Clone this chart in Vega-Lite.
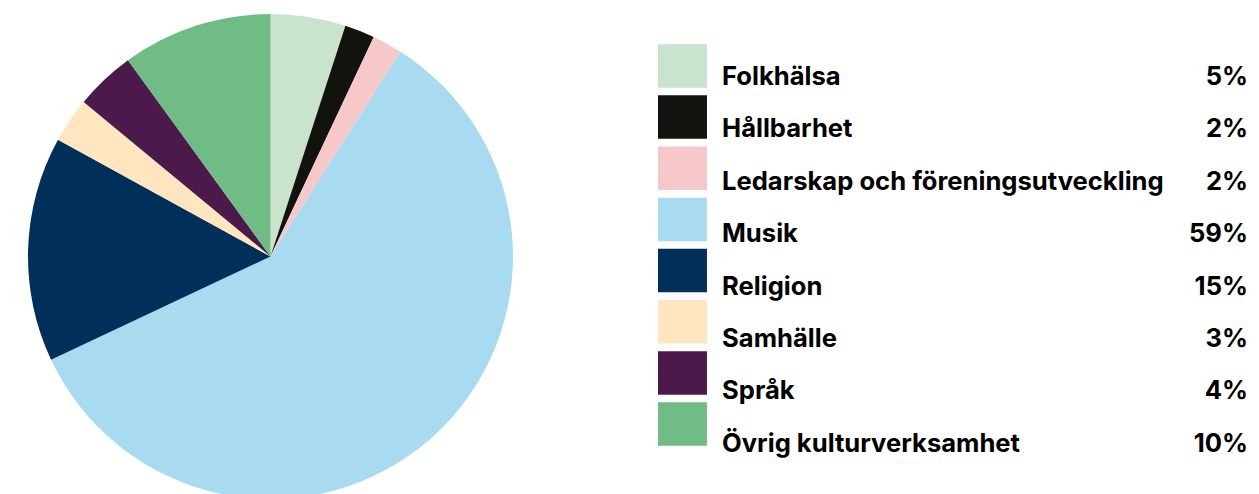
{
  "$schema": "https://vega.github.io/schema/vega-lite/v6.json",
  "padding": {"left": 28, "top": 14, "right": 0, "bottom": 0},
  "spacing": 145,
  "config": {"view": {"stroke": null}},
  "data": {"values": [
    {"nr": 1, "kategori": "Folkhälsa", "andel": 0.05},
    {"nr": 2, "kategori": "Hållbarhet", "andel": 0.02},
    {"nr": 3, "kategori": "Ledarskap och föreningsutveckling", "andel": 0.02},
    {"nr": 4, "kategori": "Musik", "andel": 0.59},
    {"nr": 5, "kategori": "Religion", "andel": 0.15},
    {"nr": 6, "kategori": "Samhälle", "andel": 0.03},
    {"nr": 7, "kategori": "Språk", "andel": 0.04},
    {"nr": 8, "kategori": "Övrig kulturverksamhet", "andel": 0.10}
  ]},
  "hconcat": [
    {
      "width": 485,
      "height": 485,
      "mark": {"type": "arc", "outerRadius": 242.5},
      "encoding": {
        "theta": {"field": "andel", "type": "quantitative", "stack": true},
        "order": {"field": "nr", "type": "quantitative"},
        "color": {
          "field": "kategori",
          "type": "nominal",
          "scale": {
            "domain": ["Folkhälsa", "Hållbarhet", "Ledarskap och föreningsutveckling", "Musik", "Religion", "Samhälle", "Språk", "Övrig kulturverksamhet"],
            "range": ["#C9E3CC", "#12120E", "#F7C8C9", "#A8DAF0", "#00305A", "#FFE6C0", "#4B1A4B", "#6FBD84"]
          },
          "legend": null
        }
      }
    },
    {
      "width": 590,
      "height": 462,
      "layer": [
        {
          "mark": {"type": "rect"},
          "encoding": {
            "x": {"datum": 0, "type": "quantitative", "scale": {"domain": [0, 1]}, "axis": null},
            "x2": {"datum": 0.083},
            "y": {"field": "kategori", "type": "nominal", "sort": {"field": "nr"}, "scale": {"type": "band", "paddingInner": 0.15, "paddingOuter": 0.59}, "axis": null},
            "color": {"field": "kategori", "type": "nominal", "legend": null}
          }
        },
        {
          "mark": {"type": "text", "align": "left", "baseline": "middle", "dy": 4, "font": "Inter", "fontWeight": "bold", "fontSize": 25.6, "color": "#000000"},
          "encoding": {
            "x": {"datum": 0.1085, "type": "quantitative", "scale": {"domain": [0, 1]}, "axis": null},
            "y": {"field": "kategori", "type": "nominal", "sort": {"field": "nr"}, "scale": {"type": "point", "padding": 0.908, "align": 0.62}, "axis": null},
            "text": {"field": "kategori", "type": "nominal"}
          }
        },
        {
          "mark": {"type": "text", "align": "right", "baseline": "middle", "dy": 4, "font": "Inter", "fontWeight": "bold", "fontSize": 25.6, "color": "#000000"},
          "encoding": {
            "x": {"datum": 1, "type": "quantitative", "scale": {"domain": [0, 1]}, "axis": null},
            "y": {"field": "kategori", "type": "nominal", "sort": {"field": "nr"}, "scale": {"type": "point", "padding": 0.908, "align": 0.62}, "axis": null},
            "text": {"field": "andel", "type": "quantitative", "format": ".0%"}
          }
        }
      ],
      "resolve": {"scale": {"y": "independent"}}
    }
  ]
}
